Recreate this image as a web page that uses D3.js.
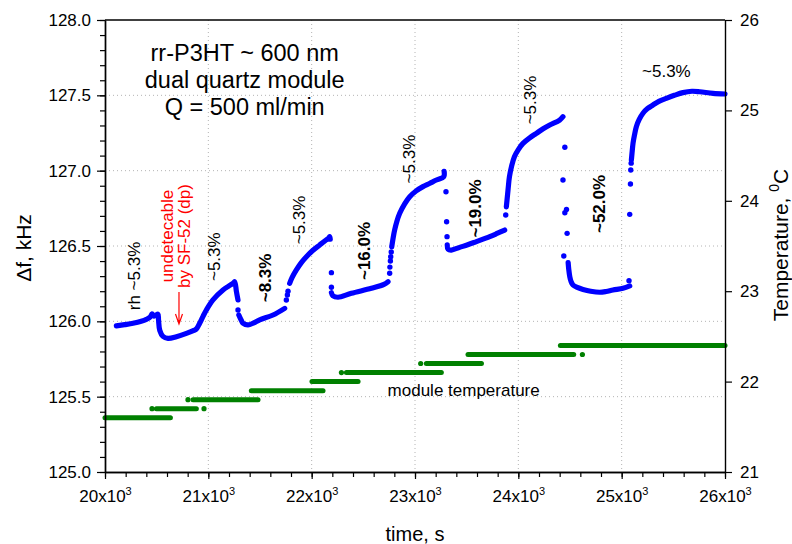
<!DOCTYPE html>
<html>
<head>
<meta charset="utf-8">
<script src="https://cdn.jsdelivr.net/npm/d3@7"></script>
<style>
  html, body { margin: 0; padding: 0; background: #fff; }
  svg { display: block; font-family: 'Liberation Sans', Arial, Helvetica, sans-serif; }
</style>
</head>
<body>
<svg id="chart" width="792" height="544"></svg>
<script>
// ---------------- data ----------------
// Δf (kHz) vs time (s): continuous runs of the dense trace
const dfRun1 = [[20110,125.970],[20190,125.978],[20271,125.987],[20350,126.000],[20400,126.013],[20440,126.030],[20455,126.050],[20475,126.035],[20500,126.045],[20513,126.047],
  [20518,126.010],[20530,125.940],[20561,125.900],[20610,125.887],[20691,125.898],[20788,125.920],[20860,125.940],[20885,125.950],[20916,125.987],[20950,126.035],
  [20981,126.075],[21045,126.142],[21142,126.208],[21200,126.235],[21239,126.252],[21255,126.263],[21272,126.197],[21287,126.142]];
const dfRun2 = [[21295,126.042],[21320,126.005],[21336,125.987],[21384,125.976],[21440,125.990],[21497,126.010],[21626,126.042],[21739,126.086]];
const dfRun3 = [[21787,126.252],[21810,126.290],[21852,126.341],[21900,126.390],[21949,126.429],[22010,126.470],[22078,126.507],[22130,126.535],[22165,126.553],[22174,126.562],[22180,126.545]];
const dfRun4 = [[22191,126.190],[22205,126.170],[22255,126.160],[22384,126.186],[22578,126.219],[22700,126.245],[22739,126.263]];
const dfRun5 = [[22775,126.495],[22790,126.560],[22803,126.606],[22825,126.665],[22852,126.717],[22900,126.780],[22949,126.827],[23010,126.865],[23077,126.894],
  [23140,126.915],[23207,126.938],[23278,126.960],[23282,126.995]];
const dfRun6 = [[23312,126.507],[23320,126.478],[23352,126.473],[23432,126.491],[23510,126.508],[23594,126.529],[23723,126.562],[23800,126.585],[23868,126.606]];
const dfRun7 = [[23884,126.760],[23900,126.870],[23914,126.960],[23935,127.030],[23962,127.093],[24000,127.140],[24045,127.181],[24110,127.218],[24175,127.248],
  [24240,127.278],[24304,127.303],[24400,127.336],[24432,127.358]];
const dfRun8 = [[24482,126.390],[24488,126.345],[24498,126.296],[24510,126.265],[24529,126.241],[24570,126.225],[24626,126.212],[24700,126.200],[24787,126.193],
  [24850,126.198],[24916,126.208],[25013,126.219],[25078,126.235]];
const dfRun9 = [[25094,127.071],[25100,127.115],[25110,127.182],[25125,127.240],[25142,127.292],[25170,127.340],[25206,127.381],[25250,127.412],[25303,127.436],
  [25360,127.460],[25432,127.480],[25510,127.500],[25593,127.518],[25680,127.527],[25755,127.524],[25884,127.513],[26000,127.509]];
const dfRuns = [dfRun1, dfRun2, dfRun3, dfRun4, dfRun5, dfRun6, dfRun7, dfRun8, dfRun9];

// Δf readings taken during the fast humidity switches (sparse points)
const dfSparse = [[21287,126.075],
  [21755,126.142],[21765,126.175],[21771,126.200],
  [22191,126.323],[22191,126.226],
  [22755,126.319],[22757,126.360],[22762,126.400],[22765,126.429],[22770,126.460],
  [23300,126.860],[23306,126.661],[23310,126.562],
  [23878,126.706],
  [24450,127.155],[24432,126.938],[24450,126.721],[24466,126.743],[24472,126.584],[24440,126.434],
  [25071,126.270],[25078,126.710],[25085,126.912],[25088,127.004],[25092,127.050]];

// module temperature (°C): quantised levels and the time span each level covers
const tempLevels = [21.6, 21.7, 21.8, 21.9, 22.0, 22.1, 22.2, 22.3, 22.4];
const tempStart  = [20000, 20497, 20852, 21416, 22003, 22336, 23110, 23513, 24407];
const tempEnd    = [20633, 20884, 21481, 22110, 22449, 23255, 23643, 24536, 26000];
// single temperature readings off the main runs
const tempSpikes = [[20455,21.7],[20958,21.7],[20803,21.8],[22288,22.1],[23055,22.2],[24620,22.3]];

// axis ticks
const timeTicks  = [20000, 21000, 22000, 23000, 24000, 25000, 26000];
const timeMinor  = d3.range(20000, 26001, 200);
const dfTicks    = [125.0, 125.5, 126.0, 126.5, 127.0, 127.5, 128.0];
const dfMinor    = d3.range(125.0, 128.001, 0.1);
const tempTicks  = [21, 22, 23, 24, 25, 26];

// humidity step annotations: [text, time, Δf, bold]
const rhLabels = [
  ["rh ~5.3%", 20341, 126.301, false],
  ["~5.3%",    21115, 126.429, false],
  ["~8.3%",    21608, 126.288, true],
  ["~5.3%",    21933, 126.673, false],
  ["~16.0%",   22562, 126.467, true],
  ["~5.3%",    22997, 127.077, false],
  ["~19.0%",   23641, 126.749, true],
  ["~5.3%",    24173, 127.469, false],
  ["~52.0%",   24836, 126.779, true]
];
const titleLines = ["rr-P3HT ~ 600 nm", "dual quartz module", "Q = 500 ml/min"];

// ---------------- layout ----------------
const svg = d3.select("#chart");
const x  = d3.scaleLinear().domain([20000, 26000]).range([105, 725]);
const yF = d3.scaleLinear().domain([125, 128]).range([472, 20]);
const yT = d3.scaleLinear().domain([21, 26]).range([472, 20]);
const [x0, x1] = x.range();
const [yb, yt] = yF.range();

// dotted grid
const grid = svg.append("g").attr("stroke", "#b4b4b4").attr("stroke-width", 1).attr("stroke-dasharray", "1,3");
grid.selectAll("line.v").data(timeTicks.slice(1, -1)).join("line")
  .attr("x1", d => x(d)).attr("x2", d => x(d)).attr("y1", yt).attr("y2", yb);
grid.selectAll("line.h").data(dfTicks.slice(1, -1)).join("line")
  .attr("x1", x0).attr("x2", x1).attr("y1", d => yF(d)).attr("y2", d => yF(d));

// temperature trace
const green = "#008000";
const tempG = svg.append("g");
tempG.selectAll("line").data(tempLevels).join("line")
  .attr("x1", (d, i) => x(tempStart[i])).attr("x2", (d, i) => x(tempEnd[i]))
  .attr("y1", d => yT(d)).attr("y2", d => yT(d))
  .attr("stroke", green).attr("stroke-width", 5).attr("stroke-linecap", "round");
tempG.selectAll("circle").data(tempSpikes).join("circle")
  .attr("cx", d => x(d[0])).attr("cy", d => yT(d[1])).attr("r", 2.6).attr("fill", green);

// Δf trace
const blue = "#0000ff";
const line = d3.line().x(d => x(d[0])).y(d => yF(d[1])).curve(d3.curveCatmullRom.alpha(0.5));
const dfG = svg.append("g");
dfG.selectAll("path").data(dfRuns).join("path")
  .attr("d", line).attr("fill", "none").attr("stroke", blue)
  .attr("stroke-width", 5.2).attr("stroke-linecap", "round").attr("stroke-linejoin", "round");
dfG.selectAll("circle").data(dfSparse).join("circle")
  .attr("cx", d => x(d[0])).attr("cy", d => yF(d[1])).attr("r", 2.7).attr("fill", blue);

// axes
const fs = 17;
function styleAxis(g) {
  g.selectAll("path.domain").attr("stroke", "#000").attr("stroke-width", 1.4);
  g.selectAll(".tick line").attr("stroke", "#000").attr("stroke-width", 1.2);
  g.selectAll(".tick text").attr("fill", "#000").attr("font-size", fs).attr("font-family", null);
}
// left Δf axis
svg.append("g").attr("transform", `translate(${x0},0)`)
  .call(d3.axisLeft(yF).tickValues(dfMinor).tickSize(5).tickFormat("").tickSizeOuter(0)).call(styleAxis);
svg.append("g").attr("transform", `translate(${x0},0)`)
  .call(d3.axisLeft(yF).tickValues(dfTicks).tickSize(8).tickPadding(6).tickFormat(d3.format(".1f")).tickSizeOuter(0))
  .call(styleAxis);
// bottom time axis
svg.append("g").attr("transform", `translate(0,${yb})`)
  .call(d3.axisBottom(x).tickValues(timeMinor).tickSize(5).tickFormat("").tickSizeOuter(0)).call(styleAxis);
const xAx = svg.append("g").attr("transform", `translate(0,${yb})`)
  .call(d3.axisBottom(x).tickValues(timeTicks).tickSize(7).tickFormat("").tickSizeOuter(0)).call(styleAxis);
xAx.selectAll(".tick").append("text")
  .attr("y", 30).attr("text-anchor", "middle").attr("font-size", fs).attr("fill", "#000")
  .each(function (d) {
    const t = d3.select(this);
    t.append("tspan").text(`${d / 1000}x10`);
    t.append("tspan").attr("dy", -7).attr("font-size", 11).text("3");
  });
// right temperature axis
svg.append("g").attr("transform", `translate(${x1},0)`)
  .call(d3.axisRight(yT).tickValues(tempTicks).tickSize(7).tickPadding(8).tickFormat(d3.format("d")).tickSizeOuter(0))
  .call(styleAxis);
// top frame line
svg.append("line").attr("x1", x0).attr("x2", x1).attr("y1", yt).attr("y2", yt)
  .attr("stroke", "#000").attr("stroke-width", 1.4);

// axis titles
svg.append("text").attr("transform", `translate(31,${(yt + yb) / 2 + 2}) rotate(-90)`)
  .attr("text-anchor", "middle").attr("font-size", 21).text("Δf, kHz");
svg.append("text").attr("x", (x0 + x1) / 2).attr("y", 541)
  .attr("text-anchor", "middle").attr("font-size", 20).text("time, s");
const tTitle = svg.append("text").attr("transform", `translate(788,${(yt + yb) / 2 - 1}) rotate(-90)`)
  .attr("text-anchor", "middle").attr("font-size", 21);
tTitle.append("tspan").text("Temperature, ");
tTitle.append("tspan").attr("dy", -9).attr("font-size", 14).text("0");
tTitle.append("tspan").attr("dy", 9).text("C");

// sample description
svg.append("g").selectAll("text").data(titleLines).join("text")
  .attr("x", x(21352)).attr("y", (d, i) => yF(127.728) + i * 27)
  .attr("text-anchor", "middle").attr("font-size", 23.5).text(d => d);

// humidity labels
svg.append("g").selectAll("text").data(rhLabels).join("text")
  .attr("transform", d => `translate(${x(d[1])},${yF(d[2])}) rotate(-90)`)
  .attr("text-anchor", "middle").attr("font-size", 17)
  .attr("font-weight", d => d[3] ? "bold" : "normal").text(d => d[0]);
svg.append("text").attr("x", x(25433)).attr("y", yF(127.620))
  .attr("text-anchor", "middle").attr("font-size", 17).text("~5.3%");
svg.append("text").attr("x", x(23471)).attr("y", yT(21.84))
  .attr("text-anchor", "middle").attr("font-size", 17).text("module temperature");

// note on the undetected first step, with arrow
const red = "#ff0000";
svg.append("text").attr("transform", `translate(${x(20660)},${yF(126.566)}) rotate(-90)`)
  .attr("text-anchor", "middle").attr("font-size", 17).attr("fill", red).text("undetecable");
svg.append("text").attr("transform", `translate(${x(20824)},${yF(126.566)}) rotate(-90)`)
  .attr("text-anchor", "middle").attr("font-size", 17).attr("fill", red).text("by SF-52 (dp)");
const ax = x(20716), ay0 = yF(126.195), ay1 = yF(125.982);
svg.append("path")
  .attr("d", `M${ax},${ay0}L${ax},${ay1}M${ax - 3.5},${ay1 - 10}L${ax},${ay1}L${ax + 3.5},${ay1 - 10}`)
  .attr("fill", "none").attr("stroke", red).attr("stroke-width", 1.2);
</script>
</body>
</html>
